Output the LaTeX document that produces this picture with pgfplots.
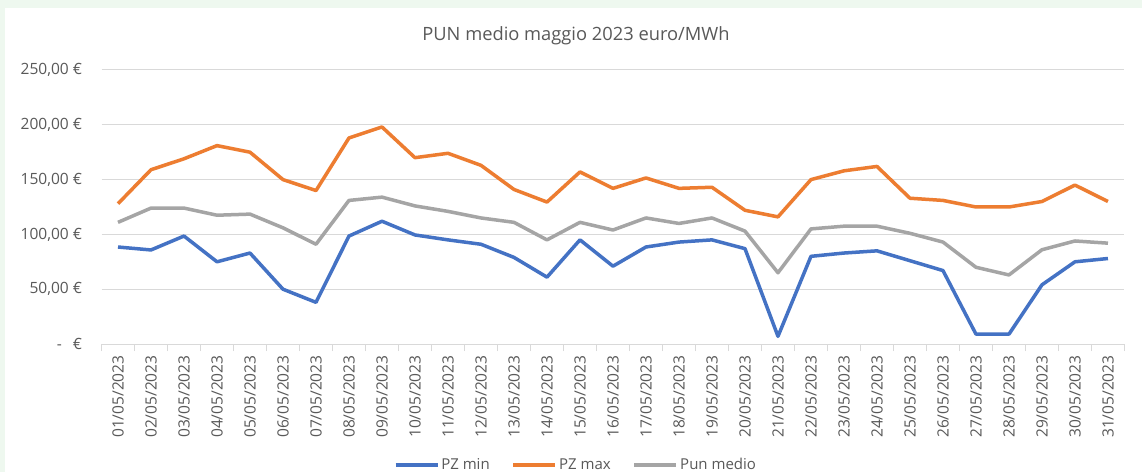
\documentclass[border=0pt]{standalone}
\usepackage{fontspec}
\setmainfont{Open Sans}
\usepackage{pgfplots}
\pgfplotsset{compat=1.18}
\definecolor{cblue}{HTML}{4472C4}
\definecolor{corange}{HTML}{ED7D31}
\definecolor{cgrey}{HTML}{A5A5A5}
\definecolor{ctext}{HTML}{595959}
\definecolor{cgrid}{HTML}{D9D9D9}
\definecolor{cbg}{HTML}{EEF8EF}
\begin{document}
\begin{tikzpicture}[x=1pt,y=1pt]
\fill[white] (0,0) rectangle (1142,472);
\fill[cbg] (0,464) rectangle (1142,472);
\fill[cbg] (0,0) rectangle (5,472);
\node[text=ctext, font=\fontsize{18.3}{20}\selectfont] at (576,436) {PUN medio maggio 2023 euro/MWh};
\begin{axis}[
  at={(101.5pt,128pt)}, anchor=south west,
  scale only axis, width=1023pt, height=274pt,
  xmin=-0.5, xmax=30.5, ymin=0, ymax=250,
  axis line style={draw=none},
  axis x line*=bottom,
  x axis line style={draw=cgrid, line width=1pt},
  ytick={0,50,100,150,200,250},
  yticklabels={{-\hspace{11pt}€},{50,00 €},{100,00 €},{150,00 €},{200,00 €},{250,00 €}},
  ymajorgrids, grid style={cgrid, line width=1pt},
  major tick length=0pt,
  xtick={0,...,30},
  xticklabels={01/05/2023,02/05/2023,03/05/2023,04/05/2023,05/05/2023,06/05/2023,07/05/2023,08/05/2023,09/05/2023,10/05/2023,11/05/2023,12/05/2023,13/05/2023,14/05/2023,15/05/2023,16/05/2023,17/05/2023,18/05/2023,19/05/2023,20/05/2023,21/05/2023,22/05/2023,23/05/2023,24/05/2023,25/05/2023,26/05/2023,27/05/2023,28/05/2023,29/05/2023,30/05/2023,31/05/2023},
  minor xtick={-0.5,0.5,...,30.5},
  minor tick length=7pt,
  tick align=outside,
  minor tick style={cgrid, line width=1pt},
  /pgf/number format/assume math mode=true,
  ticklabel style={text=ctext, font=\fontsize{15.5}{17}\selectfont},
  xticklabel style={rotate=90, anchor=east},
  xticklabel shift=8pt,
  yticklabel shift=16pt,
  legend style={at={(0.4638,-0.4416)}, anchor=center, draw=none, fill=none,
    legend columns=3, font=\fontsize{15}{17}\selectfont, text=ctext,
    /tikz/every even column/.append style={column sep=20pt}},
  legend image code/.code={\draw[#1, line width=3.5pt] (0pt,0pt) -- (42pt,0pt);},
  every axis plot/.append style={line width=3.5pt, line join=round},
]
\addplot[cblue, mark=none] coordinates {
(0,88.5)(1,85.8)(2,98.5)(3,75)(4,83)(5,50)(6,38)(7,98.5)(8,112)(9,99.5)
(10,95)(11,91)(12,79)(13,61)(14,95)(15,71)(16,88.5)(17,93)(18,95)(19,87)
(20,7)(21,80)(22,83)(23,85)(24,76)(25,67)(26,9)(27,9)(28,54)(29,75)(30,78)};
\addlegendentry{PZ min}
\addplot[corange, mark=none] coordinates {
(0,128)(1,159)(2,169)(3,181)(4,175)(5,150)(6,140)(7,188)(8,198)(9,170)
(10,174)(11,163)(12,141)(13,129.5)(14,157)(15,142)(16,151.5)(17,142)(18,143)(19,122)
(20,116)(21,150)(22,158)(23,162)(24,133)(25,131)(26,125)(27,125)(28,130)(29,145)(30,130)};
\addlegendentry{PZ max}
\addplot[cgrey, mark=none] coordinates {
(0,111)(1,124)(2,124)(3,117.5)(4,118.5)(5,106)(6,91)(7,131)(8,134)(9,126)
(10,121)(11,115)(12,111)(13,95)(14,111)(15,104)(16,115)(17,110)(18,115)(19,103)
(20,65)(21,105)(22,107.5)(23,107.5)(24,101)(25,93)(26,70)(27,63)(28,86)(29,94)(30,92)};
\addlegendentry{Pun medio}
\end{axis}
\useasboundingbox (0,0) rectangle (1142,472);
\end{tikzpicture}
\end{document}
